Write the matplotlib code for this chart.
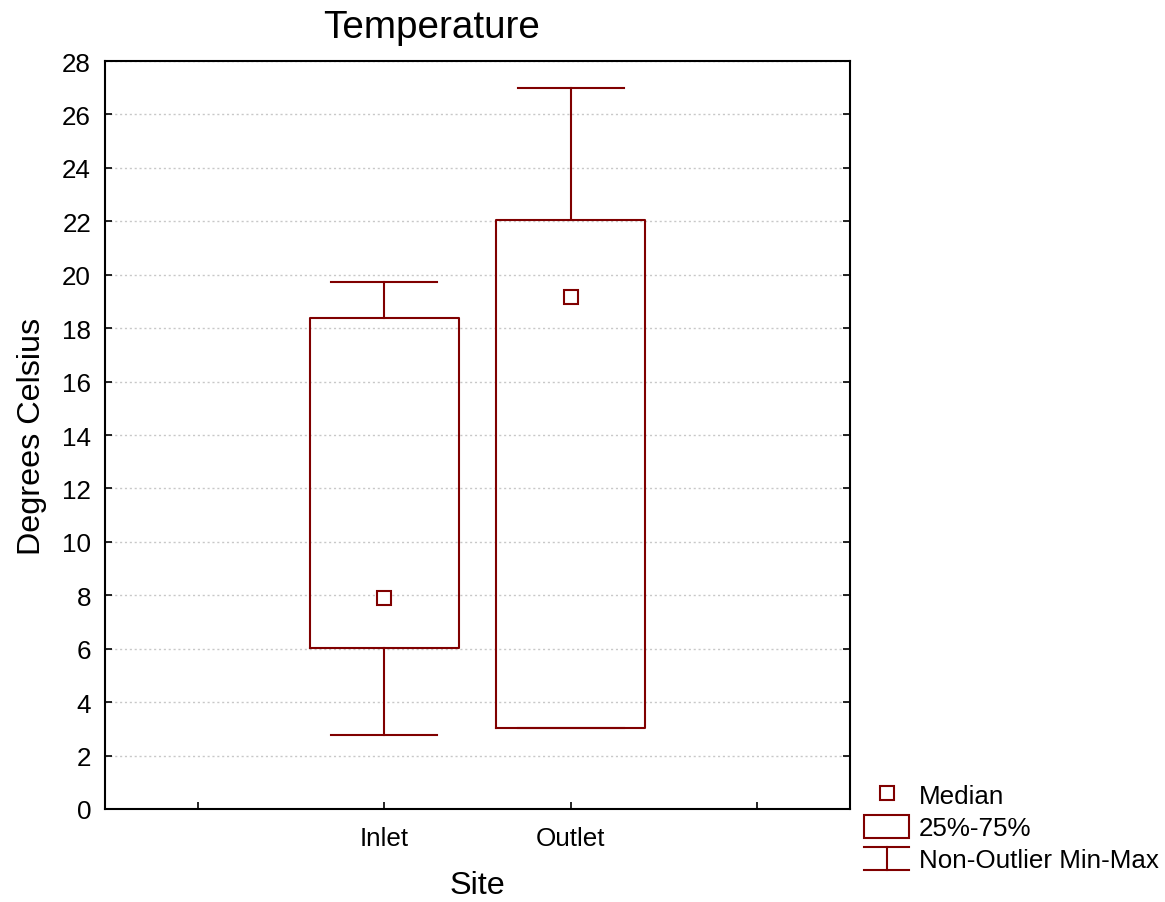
import matplotlib
matplotlib.use("Agg")
import matplotlib.pyplot as plt
from matplotlib.legend_handler import HandlerBase
from matplotlib.lines import Line2D
from matplotlib.patches import Rectangle

plt.rcParams['font.family'] = ['Liberation Sans', 'DejaVu Sans']

# Datos
sites = ["Inlet", "Outlet"]
minimo = [2.78, 3.03]
q1 = [6.04, 3.03]
mediana = [7.89, 19.18]
q3 = [18.37, 22.06]
maximo = [19.74, 26.99]

y_ticks = list(range(0, 29, 2))
color = "#800000"


# Símbolo de la leyenda para el rango min-max
class HandlerWhisker(HandlerBase):
    def create_artists(self, legend, orig_handle, xdescent, ydescent,
                       width, height, fontsize, trans):
        x0, x1 = -xdescent, -xdescent + width
        xm = (x0 + x1) / 2
        y0, y1 = -ydescent, -ydescent + height
        kw = dict(color=color, lw=1.5, transform=trans)
        return [Line2D([x0, x1], [y1, y1], **kw),
                Line2D([x0, x1], [y0, y0], **kw),
                Line2D([xm, xm], [y0, y1], **kw)]


fig = plt.figure(figsize=(11.65, 9.03), dpi=100)
ax = fig.add_axes([0.0901, 0.103, 0.6395, 0.8283])

stats = []
for i in range(len(sites)):
    stats.append(dict(med=mediana[i], q1=q1[i], q3=q3[i],
                      whislo=minimo[i], whishi=maximo[i], fliers=[]))

pos = list(range(1, len(sites) + 1))
lp = dict(color=color, lw=1.5)
ax.bxp(stats, positions=pos, widths=0.8, capwidths=0.57, showfliers=False,
       boxprops=lp, whiskerprops=lp, capprops=lp,
       medianprops=dict(visible=False), manage_ticks=False, zorder=3)
ax.plot(pos, mediana, ls="none", marker="s", ms=10, mfc="white",
        mec=color, mew=1.5, zorder=4)

ax.set_xlim(-0.5, 3.5)
ax.set_ylim(0, 28)
ax.set_yticks(y_ticks)
ax.set_xticks([0, 1, 2, 3])
ax.set_xticklabels([""] + sites + [""])
ax.tick_params(direction="in", length=5, width=1.2, labelsize=18.7, pad=10,
               left=True, right=True, bottom=True, top=False)
ax.tick_params(axis="x", pad=12)
for s in ax.spines.values():
    s.set_linewidth(1.5)
ax.yaxis.grid(True, ls=(0, (1.5, 2)), color="#c8c8c8", lw=1)
ax.set_axisbelow(True)

ax.set_title("Temperature", fontsize=27.8, x=0.439, pad=17)
ax.set_xlabel("Site", fontsize=23.3, labelpad=15)
ax.set_ylabel("Degrees Celsius", fontsize=23.3, labelpad=11)

h_med = Line2D([], [], ls="none", marker="s", ms=10, mfc="white",
               mec=color, mew=1.5)
h_box = Rectangle((0, 0), 1, 1, fc="white", ec=color, lw=1.5)
h_wh = object()
fig.legend([h_med, h_box, h_wh], ["Median", "25%-75%", "Non-Outlier Min-Max"],
           handler_map={h_wh: HandlerWhisker()},
           loc="lower left", bbox_to_anchor=(0.742, 0.033), frameon=False,
           fontsize=18.7, handlelength=1.7, handleheight=1.0, handletextpad=0.4,
           labelspacing=0.25, borderpad=0, borderaxespad=0)

fig.savefig("out.png", dpi=100)
